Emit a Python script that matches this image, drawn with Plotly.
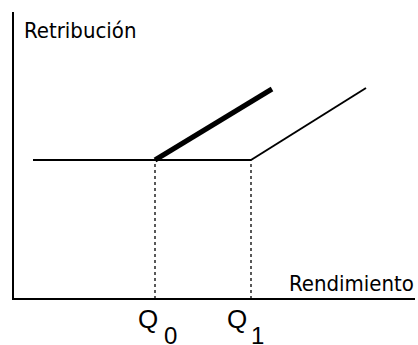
import plotly.graph_objects as go

# Data (chart units: origin at the axes corner)
axis_x_end = 402
axis_y_end = 287
base_start = 20
base_level = 139
q_names = ["0", "1"]
q_values = [142, 238]
thick_end = [259, 210]
thin_end = [353, 211]

fig = go.Figure()
blk = "black"
# axes
fig.add_trace(go.Scatter(x=[0, 0, axis_x_end], y=[axis_y_end, 0, 0], mode="lines",
                         line=dict(color=blk, width=2)))
# flat base line
fig.add_trace(go.Scatter(x=[base_start, q_values[1]], y=[base_level, base_level], mode="lines",
                         line=dict(color=blk, width=2)))
# thick line from Q0
fig.add_trace(go.Scatter(x=[q_values[0], thick_end[0]], y=[base_level, thick_end[1]], mode="lines",
                         line=dict(color=blk, width=5)))
# thin line from Q1
fig.add_trace(go.Scatter(x=[q_values[1], thin_end[0]], y=[base_level, thin_end[1]], mode="lines",
                         line=dict(color=blk, width=2)))
# dotted verticals
for q in q_values:
    fig.add_trace(go.Scatter(x=[q, q], y=[0, base_level], mode="lines",
                             line=dict(color=blk, width=1.3, dash="dot")))

narrow = "Liberation Sans Narrow, Arial Narrow, DejaVu Sans Condensed, sans-serif"
reg = "Liberation Sans, Arial, sans-serif"
fig.add_annotation(x=9, y=269, xref="x", yref="y", text="Retribución", showarrow=False,
                   xanchor="left", yanchor="middle", font=dict(size=22, color=blk, family=narrow))
fig.add_annotation(x=axis_x_end + 1, y=16, xref="x", yref="y", text="Rendimiento", showarrow=False,
                   xanchor="right", yanchor="middle", font=dict(size=22, color=blk, family=narrow))
q_dx = [-7, -14]
sub_dx = [15, 6]
for q, name, dq, ds in zip(q_values, q_names, q_dx, sub_dx):
    fig.add_annotation(x=q + dq, y=-20, xref="x", yref="y", text="Q", showarrow=False,
                       xanchor="center", yanchor="middle",
                       font=dict(size=26, color=blk, family=reg))
    fig.add_annotation(x=q + ds, y=-36, xref="x", yref="y", text=name, showarrow=False,
                       xanchor="center", yanchor="middle",
                       font=dict(size=24, color=blk, family=reg))

fig.update_layout(width=418, height=345, margin=dict(l=0, r=0, t=0, b=0),
                  paper_bgcolor="white", plot_bgcolor="white", showlegend=False,
                  xaxis=dict(range=[-13, 405], visible=False, fixedrange=True),
                  yaxis=dict(range=[-46, 299], visible=False, fixedrange=True))
fig.write_html("out.html", config={"displayModeBar": False},
               post_script="document.body.style.margin='0';document.body.style.overflow='hidden';")
